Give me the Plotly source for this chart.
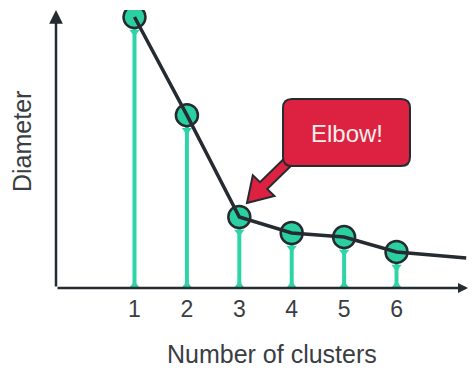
import plotly.graph_objects as go

# ---- data ----
clusters = [1, 2, 3, 4, 5, 6]
diameter = [10.0, 6.38, 2.62, 2.03, 1.88, 1.33]
tail_x = [6, 7.33]
tail_y = [1.33, 1.11]
tick_labels = ["1", "2", "3", "4", "5", "6"]

W, H = 472, 372
ML, MR, MT, MB = 56, 4, 10, 84
PW, PH = W - ML - MR, H - MT - MB
X0, X1 = -0.498, 7.364
Y0, Y1 = 0.0, 10.26
ppu_y = PH / (Y1 - Y0)

TEAL = "#2fd4a6"
DARK = "#262b31"
RED = "#dc2240"
TXT = "#3a3d42"
FONT = "Liberation Sans, Arial, sans-serif"

def px(x, y):
    return (x - ML) / PW, (H - MB - y) / PH

fig = go.Figure()

# stems
for xv, yv in zip(clusters, diameter):
    fig.add_trace(go.Scatter(x=[xv, xv], y=[0, yv], mode="lines",
                             line=dict(color=TEAL, width=4), hoverinfo="skip", showlegend=False))
# stem base flares
fig.add_trace(go.Scatter(x=clusters, y=[0] * len(clusters), mode="markers",
                         marker=dict(symbol="triangle-up", size=14, color=TEAL),
                         hoverinfo="skip", showlegend=False))
# stem top flares
off = 15 / ppu_y
fig.add_trace(go.Scatter(x=clusters, y=[v - off for v in diameter], mode="markers",
                         marker=dict(symbol="triangle-down", size=9, color=TEAL),
                         hoverinfo="skip", showlegend=False))
# circles
fig.add_trace(go.Scatter(x=clusters, y=diameter, mode="markers",
                         marker=dict(size=22, color="#2bd0a0", line=dict(color=DARK, width=2.5)),
                         showlegend=False))
# line on top
fig.add_trace(go.Scatter(x=clusters + tail_x[1:], y=diameter + tail_y[1:], mode="lines",
                         line=dict(color=DARK, width=3.5), showlegend=False, hoverinfo="skip"))

shapes = []
# red arrow polygon (pixel coords -> paper)
arrow_pts = [(247, 203), (274.4, 196.0), (267.2, 189.1), (298.6, 158.5),
             (291.4, 151.5), (260.0, 182.1), (252.8, 175.2)]
p = " L ".join("%.4f,%.4f" % px(a, b) for a, b in arrow_pts)
shapes.append(dict(type="path", xref="paper", yref="paper", path="M " + p + " Z",
                   fillcolor=RED, line=dict(color=DARK, width=2), layer="above"))
# rounded box
bx0, by0, bx1, by1, r = 283, 99, 410, 166, 9
def P(a, b):
    return "%.4f,%.4f" % px(a, b)
box = ("M " + P(bx0 + r, by0) + " L " + P(bx1 - r, by0) +
       " Q " + P(bx1, by0) + " " + P(bx1, by0 + r) +
       " L " + P(bx1, by1 - r) + " Q " + P(bx1, by1) + " " + P(bx1 - r, by1) +
       " L " + P(bx0 + r, by1) + " Q " + P(bx0, by1) + " " + P(bx0, by1 - r) +
       " L " + P(bx0, by0 + r) + " Q " + P(bx0, by0) + " " + P(bx0 + r, by0) + " Z")
shapes.append(dict(type="path", xref="paper", yref="paper", path=box,
                   fillcolor=RED, line=dict(color=DARK, width=2), layer="above"))

annotations = []
# axes with arrowheads
annotations.append(dict(xref="paper", yref="paper", x=0, y=1.0, ax=0, ay=PH,
                        showarrow=True, arrowhead=2, arrowsize=1.1, arrowwidth=2.5,
                        arrowcolor=DARK, text=""))
annotations.append(dict(xref="paper", yref="paper", x=1.0, y=0, ax=-PW, ay=0,
                        showarrow=True, arrowhead=2, arrowsize=0.8, arrowwidth=2.5,
                        arrowcolor=DARK, text=""))
tx, ty = px(347, 133)
annotations.append(dict(xref="paper", yref="paper", x=tx, y=ty, text="Elbow!",
                        showarrow=False, font=dict(family=FONT, size=24, color="#f6eeee"),
                        xanchor="center", yanchor="middle"))
tx, ty = px(272, 354)
annotations.append(dict(xref="paper", yref="paper", x=tx, y=ty, text="Number of clusters",
                        showarrow=False, font=dict(family=FONT, size=25, color=TXT),
                        xanchor="center", yanchor="middle"))
tx, ty = px(22, 142)
annotations.append(dict(xref="paper", yref="paper", x=tx, y=ty, text="Diameter",
                        showarrow=False, textangle=-90, font=dict(family=FONT, size=25, color=TXT),
                        xanchor="center", yanchor="middle"))

fig.update_layout(
    width=W, height=H, margin=dict(l=ML, r=MR, t=MT, b=MB),
    paper_bgcolor="white", plot_bgcolor="white",
    xaxis=dict(range=[X0, X1], tickvals=clusters, ticktext=tick_labels, showgrid=False,
               zeroline=False, showline=False, ticks="", ticklabelstandoff=5,
               tickfont=dict(family=FONT, size=23, color=TXT)),
    yaxis=dict(range=[Y0, Y1], showticklabels=False, showgrid=False, zeroline=False,
               showline=False, ticks=""),
    shapes=shapes, annotations=annotations, showlegend=False,
)
fig.write_html("out.html", config={"displayModeBar": False},
               post_script="document.body.style.margin='0';")
